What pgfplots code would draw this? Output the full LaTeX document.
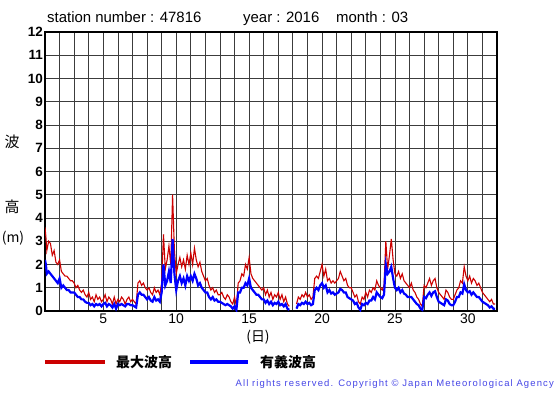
\documentclass[border=0pt]{standalone}
\usepackage{pgfplots}
\usepackage{pgfplotstable}
\pgfplotsset{compat=1.18}
\usepackage{fontspec}
\setmainfont{Liberation Sans}
\newfontfamily\cjk{Noto Sans CJK JP}
\definecolor{maxred}{RGB}{204,0,0}
\definecolor{sigblue}{RGB}{0,0,255}
\definecolor{copyblue}{RGB}{70,70,230}
\definecolor{gridc}{RGB}{60,60,60}

\pgfplotstableread{
d r b
1.000 3.6 2.2
1.060 3.2 2.0
1.125 2.6 1.6
1.250 3.0 1.7
1.375 2.9 1.6
1.500 2.4 1.5
1.625 2.6 1.4
1.750 2.1 1.3
1.875 2.0 1.2
2.000 2.2 1.4
2.125 1.7 1.0
2.250 1.6 1.1
2.375 1.5 1.0
2.500 1.5 0.9
2.625 1.4 0.9
2.750 1.3 0.8
2.875 1.3 0.8
3.000 1.2 0.8
3.125 1.0 0.7
3.250 1.1 0.6
3.375 0.9 0.6
3.500 0.8 0.5
3.625 0.9 0.5
3.750 0.7 0.4
3.875 0.6 0.35
4.000 0.8 0.35
4.125 0.5 0.25
4.250 0.6 0.3
4.375 0.4 0.2
4.500 0.7 0.3
4.625 0.5 0.25
4.750 0.6 0.3
4.875 0.4 0.2
5.000 0.5 0.3
5.125 0.7 0.35
5.250 0.4 0.2
5.375 0.6 0.3
5.500 0.5 0.25
5.625 0.3 0.15
5.750 0.6 0.3
5.875 0.3 0.1
6.000 0.5 0.3
6.125 0.4 0.25
6.250 0.6 0.3
6.375 0.5 0.25
6.500 0.3 0.2
6.625 0.5 0.3
6.750 0.6 0.3
6.875 0.4 0.25
7.000 0.5 0.25
7.125 0.4 0.2
7.250 0.3 0.15
7.375 1.2 0.7
7.500 1.3 0.8
7.625 1.1 0.7
7.750 1.2 0.7
7.875 1.0 0.6
8.000 0.9 0.5
8.125 1.0 0.6
8.250 0.8 0.45
8.375 0.7 0.4
8.500 1.0 0.6
8.625 0.8 0.45
8.750 0.9 0.5
8.875 0.7 0.4
9.000 1.2 0.8
9.125 3.3 2.0
9.250 1.8 1.1
9.375 2.2 1.3
9.500 2.8 1.7
9.625 2.0 1.2
9.750 5.0 3.1
9.875 2.6 1.6
10.000 1.6 0.9
10.125 2.0 1.3
10.250 2.3 1.5
10.375 1.9 1.2
10.500 2.2 1.4
10.625 1.8 1.1
10.750 2.4 1.5
10.875 2.0 1.3
11.000 2.5 1.5
11.125 2.0 1.3
11.250 2.7 1.6
11.375 2.2 1.4
11.500 1.9 1.1
11.625 2.1 1.2
11.750 1.7 1.0
11.875 1.5 0.9
12.000 1.3 0.8
12.125 1.4 0.8
12.250 1.1 0.6
12.375 0.9 0.5
12.500 1.0 0.6
12.625 0.8 0.45
12.750 0.9 0.5
12.875 0.7 0.4
13.000 0.7 0.4
13.125 0.8 0.35
13.250 0.6 0.3
13.375 0.5 0.25
13.500 0.7 0.3
13.625 0.6 0.25
13.750 0.4 0.2
13.875 0.3 0.1
14.000 0.6 0.2
14.125 0.2 0.05
14.250 1.2 0.8
14.375 1.3 0.8
14.500 1.6 1.0
14.625 1.5 1.0
14.750 2.0 1.2
14.875 1.8 1.1
15.000 2.3 1.4
15.125 1.6 1.0
15.250 1.4 0.9
15.375 1.3 0.8
15.500 1.2 0.7
15.625 1.1 0.7
15.750 1.0 0.6
15.875 0.9 0.5
16.000 1.0 0.5
16.125 0.7 0.35
16.250 0.9 0.45
16.375 0.6 0.3
16.500 0.8 0.4
16.625 0.5 0.25
16.750 0.7 0.35
16.875 0.6 0.3
17.000 0.8 0.4
17.125 0.5 0.25
17.250 0.7 0.3
17.375 0.4 0.2
17.500 0.6 0.3
17.625 0.3 0.1
17.750 0.2 0.05
17.875 nan nan
18.000 nan nan
18.125 nan nan
18.250 0.3 0.1
18.375 0.6 0.3
18.500 0.5 0.25
18.625 0.7 0.35
18.750 0.6 0.3
18.875 0.8 0.4
19.000 0.6 0.3
19.125 0.7 0.35
19.250 0.5 0.25
19.375 0.6 0.3
19.500 1.4 0.9
19.625 1.5 1.0
19.750 1.4 0.9
19.875 1.7 1.1
20.000 2.0 1.2
20.125 1.5 1.0
20.250 1.8 1.1
20.375 1.3 0.8
20.500 1.4 0.9
20.625 1.2 0.75
20.750 1.3 0.8
20.875 1.2 0.7
21.000 1.3 0.75
21.125 1.4 0.8
21.250 1.7 0.95
21.375 1.5 0.9
21.500 1.3 0.8
21.625 1.4 0.8
21.750 1.1 0.6
21.875 1.0 0.55
22.000 1.0 0.5
22.125 0.8 0.45
22.250 0.6 0.3
22.375 0.7 0.35
22.500 0.4 0.15
22.625 0.3 0.05
22.750 0.6 0.3
22.875 0.5 0.25
23.000 0.8 0.35
23.125 0.6 0.3
23.250 0.9 0.45
23.375 0.8 0.45
23.500 1.0 0.6
23.625 0.9 0.5
23.750 1.3 0.8
23.875 1.1 0.7
24.000 1.0 0.6
24.125 0.9 0.55
24.250 1.1 0.7
24.375 3.0 2.0
24.500 1.8 1.6
24.625 2.4 1.7
24.750 3.1 1.9
24.875 2.2 1.4
25.000 1.6 1.0
25.125 1.5 0.9
25.250 1.7 1.0
25.375 1.4 0.8
25.500 1.6 0.9
25.625 1.3 0.75
25.750 1.2 0.7
25.875 1.1 0.6
26.000 1.0 0.6
26.125 1.2 0.6
26.250 0.9 0.5
26.375 0.8 0.4
26.500 0.6 0.3
26.625 0.5 0.25
26.750 0.3 0.1
26.875 0.2 0.05
27.000 1.1 0.6
27.125 1.0 0.55
27.250 1.2 0.7
27.375 1.4 0.8
27.500 1.1 0.65
27.625 1.3 0.8
27.750 1.4 0.85
27.875 1.0 0.6
28.000 0.8 0.4
28.125 0.7 0.35
28.250 0.6 0.3
28.375 0.5 0.25
28.500 0.9 0.5
28.625 0.8 0.45
28.750 0.6 0.3
28.875 0.5 0.25
29.000 0.5 0.25
29.125 0.7 0.4
29.250 0.9 0.6
29.375 1.0 0.6
29.500 1.3 0.8
29.625 1.2 0.75
29.750 1.9 1.15
29.875 1.5 0.9
30.000 1.3 0.8
30.125 1.5 0.85
30.250 1.2 0.7
30.375 1.4 0.8
30.500 1.3 0.7
30.625 1.1 0.6
30.750 1.2 0.6
30.875 1.0 0.5
31.000 0.8 0.4
31.125 0.7 0.35
31.250 0.6 0.3
31.375 0.5 0.25
31.500 0.4 0.15
31.625 0.5 0.2
31.750 0.3 0.1
31.875 0.3 0.1
}\wavedata

\begin{document}
\begin{tikzpicture}[x=1bp,y=1bp]
\useasboundingbox (0,0) rectangle (555,395);
\begin{axis}[
  at={(45bp,84bp)}, anchor=south west,
  scale only axis, width=452bp, height=279bp,
  xmin=1, xmax=32, ymin=0, ymax=12,
  xtick={2,...,31},
  xticklabels={,,,5,,,,,10,,,,,15,,,,,20,,,,,25,,,,,30,},
  ytick={0,...,12},
  major tick length=0pt,
  grid=major,
  grid style={gridc, line width=0.8bp},
  axis line style={black, line width=1.5bp},
  /pgf/number format/assume math mode=true,
  xticklabel style={font=\fontsize{14}{14}\selectfont, inner sep=1bp, yshift=-2bp},
  yticklabel style={font=\bfseries\fontsize{13.5}{13.5}\selectfont, inner sep=2bp},
  unbounded coords=jump,
  clip=true,
]
\addplot[maxred, line width=1.1bp] table[x=d, y=r] {\wavedata};
\addplot[sigblue, line width=2.2bp] table[x=d, y=b] {\wavedata};
\end{axis}
% title
\node[anchor=base west, font=\fontsize{15}{15}\selectfont, inner sep=0] at (47,373) {station number : 47816};
\node[anchor=base west, font=\fontsize{15}{15}\selectfont, inner sep=0] at (243,373) {year : 2016};
\node[anchor=base west, font=\fontsize{15}{15}\selectfont, inner sep=0] at (336,373) {month : 03};
% y label
\node[font=\cjk\fontsize{15}{15}\selectfont] at (12,253) {波};
\node[font=\cjk\fontsize{15}{15}\selectfont] at (12,188) {高};
\node[font=\cjk\fontsize{14}{14}\selectfont, inner sep=0] at (13,157) {(m)};
% x label
\node[font=\cjk\fontsize{14}{14}\selectfont] at (258,58) {(日)};
% legend
\draw[maxred, line width=4bp] (45,33) -- (105,33);
\node[anchor=west, font=\cjk\bfseries\fontsize{14}{14}\selectfont, inner sep=0] at (116,33) {最大波高};
\draw[sigblue, line width=4bp] (190,33) -- (248,33);
\node[anchor=west, font=\cjk\bfseries\fontsize{14}{14}\selectfont, inner sep=0] at (260,33) {有義波高};
% copyright
\node[anchor=east, text=copyblue, font=\addfontfeature{LetterSpace=12}\fontsize{9.5}{9.5}\selectfont, inner sep=0] at (554,11) {All rights reserved. Copyright \textcopyright{} Japan Meteorological Agency};
\end{tikzpicture}
\end{document}
